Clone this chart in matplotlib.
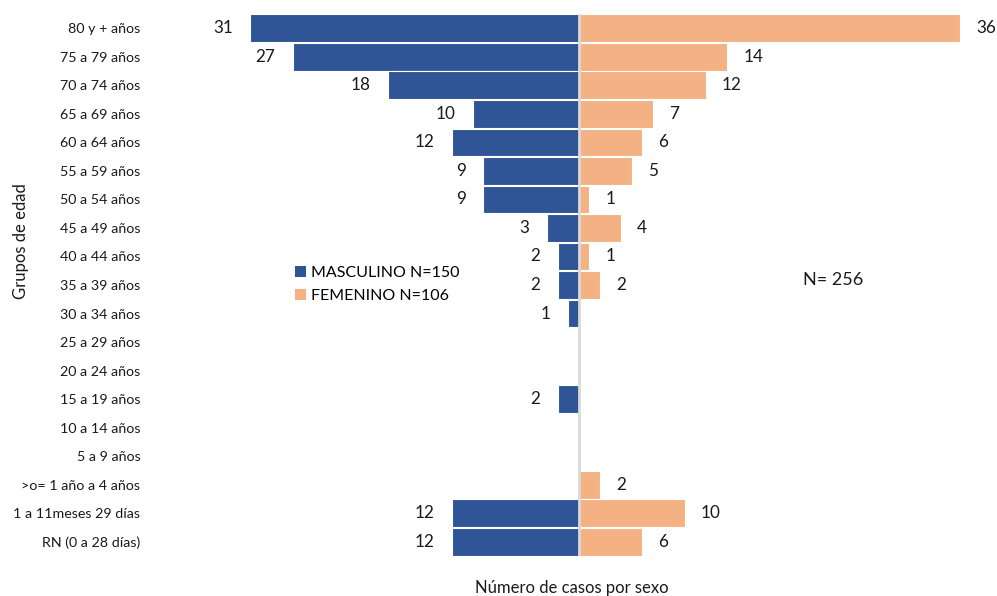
import matplotlib
matplotlib.use("Agg")
import matplotlib.pyplot as plt
from matplotlib.patches import Patch
import numpy as np

plt.rcParams['font.family'] = ['Lato', 'DejaVu Sans']

grupos = ["80 y + años", "75 a 79 años", "70 a 74 años", "65 a 69 años",
          "60 a 64 años", "55 a 59 años", "50 a 54 años", "45 a 49 años",
          "40 a 44 años", "35 a 39 años", "30 a 34 años", "25 a 29 años",
          "20 a 24 años", "15 a 19 años", "10 a 14 años", "5 a 9 años",
          ">o= 1 año a 4 años", "1 a 11meses 29 días", "RN (0 a 28 días)"]
masculino = [31, 27, 18, 10, 12, 9, 9, 3, 2, 2, 1, 0, 0, 2, 0, 0, 0, 12, 12]
femenino = [36, 14, 12, 7, 6, 5, 1, 4, 1, 2, 0, 0, 0, 0, 0, 0, 2, 10, 6]

azul = "#2F5597"
naranja = "#F4B183"

fig = plt.figure(figsize=(9.97, 5.96), dpi=100)
ax = fig.add_axes([150 / 997, 40 / 596, 847 / 997, 542 / 596])

y = np.arange(len(grupos))
m = np.array(masculino)
f = np.array(femenino)

ax.barh(y, -m, height=0.97, color=azul, edgecolor="white", linewidth=0.8, zorder=2)
ax.barh(y, f, height=0.97, color=naranja, edgecolor="white", linewidth=0.8, zorder=2)
ax.axvline(0, color="#D9D9D9", linewidth=2, zorder=3)

for yi, v in zip(y, m):
    if v > 0:
        ax.annotate(str(v), xy=(-v, yi), xytext=(-12.5, 0), textcoords="offset points",
                    ha="right", va="center", fontsize=12.3, color="#1a1a1a")
for yi, v in zip(y, f):
    if v > 0:
        ax.annotate(str(v), xy=(v, yi), xytext=(11.5, 0), textcoords="offset points",
                    ha="left", va="center", fontsize=12.3, color="#1a1a1a")

ax.set_xlim(-40.45, 39.45)
ax.set_ylim(len(grupos) - 0.5, -0.5)
ax.set_yticks(y)
ax.set_yticklabels(grupos, fontsize=10.3, color="#1a1a1a")
ax.tick_params(axis="y", length=0, pad=7)
ax.set_xticks([])
for s in ax.spines.values():
    s.set_visible(False)

handles = [Patch(facecolor=azul, label="MASCULINO N=150"),
           Patch(facecolor=naranja, label="FEMENINO N=106")]
fig.legend(handles=handles, loc="upper left", bbox_to_anchor=(287 / 997, 1 - 258 / 596),
           frameon=False, fontsize=11.5, handlelength=0.7, handleheight=0.7,
           handletextpad=0.3, labelspacing=0.55, borderpad=0)

fig.text(803 / 997, 1 - 280 / 596, "N= 256", fontsize=13, ha="left", va="center", color="#1a1a1a")
fig.text(21 / 997, 1 - 241 / 596, "Grupos de edad", rotation=90, fontsize=12,
         ha="center", va="center", color="#1a1a1a")
fig.text(572 / 997, 1 - 588 / 596, "Número de casos por sexo", fontsize=12,
         ha="center", va="center", color="#1a1a1a")

fig.savefig("out.png", dpi=100)
